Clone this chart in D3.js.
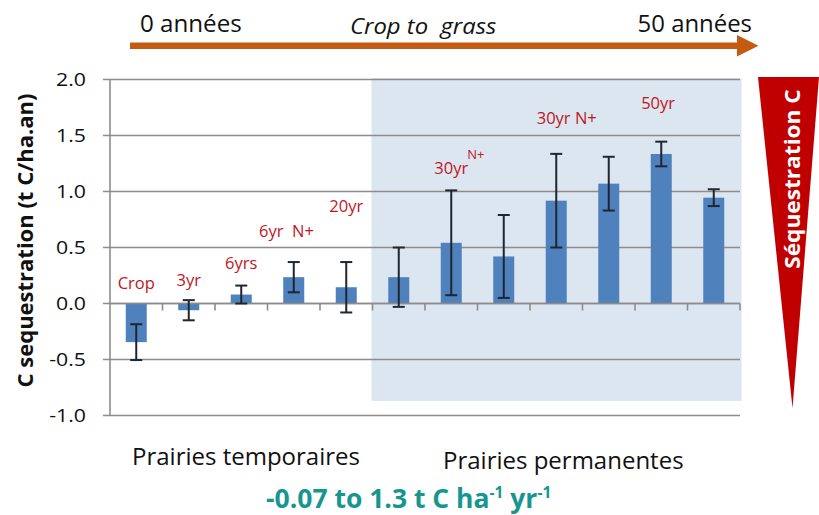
<!DOCTYPE html>
<html>
<head>
<meta charset="utf-8">
<script src="https://cdn.jsdelivr.net/npm/d3@7"></script>
<style>
  html, body { margin: 0; padding: 0; background: #ffffff; }
  svg { display: block; }
  text { font-family: "Open Sans", "Noto Sans", sans-serif; }
</style>
</head>
<body>
<svg id="chart" width="819" height="515"></svg>
<script>
// ---- data ----
const categories = ["c1","c2","c3","c4","c5","c6","c7","c8","c9","c10","c11","c12"];
const values = [-0.345, -0.06, 0.08, 0.235, 0.145, 0.235, 0.542, 0.42, 0.918, 1.07, 1.335, 0.945];
const errors = [0.16, 0.09, 0.08, 0.135, 0.225, 0.265, 0.468, 0.37, 0.418, 0.24, 0.11, 0.075];
const yTicks = [-1.0, -0.5, 0.0, 0.5, 1.0, 1.5, 2.0];
const barLabels = ["Crop", "3yr", "6yrs", "6yr  N+", "20yr", "30yr", "30yr N+", "50yr"];
const labelAt = [0, 1, 2, 2.86, 4, 6, 8.2, 9.94];        // category index (centre)
const labelLevel = [0.18, 0.21, 0.36, 0.65, 0.87, 1.21, 1.66, 1.79]; // value level
const groupLabels = ["Prairies temporaires", "Prairies permanentes"];

const svg = d3.select("#chart");
const L = 110, R = 740;

const x = d3.scaleBand().domain(categories).range([L, R]).paddingInner(0.6).paddingOuter(0.3);
const xi = d3.scaleLinear().domain([0, categories.length]).range([L, R]);
const y = d3.scaleLinear().domain([-1, 2]).range([415.5, 79.5]);

// text stretched horizontally by factor k (the reference art is slightly widened)
function stext(parent, tx, ty, k, rot) {
  const g = parent.append("g").attr("transform", `translate(${tx},${ty})` + (rot ? ` rotate(${rot})` : "") + ` scale(${k},1)`);
  return g.append("text").attr("x", 0).attr("y", 0);
}

// ---- top arrow ----
const arrowC = "#C55A11";
svg.append("rect").attr("x", 130).attr("y", 42.5).attr("width", 608).attr("height", 6.5).attr("fill", arrowC);
svg.append("path").attr("d", "M737,35 L758.5,45.8 L737,56.5 Z").attr("fill", arrowC);
stext(svg, 140, 31.5, 1.05).attr("font-size", 23).attr("fill", "#111").text("0 années");
stext(svg, 350, 34, 1.06).attr("font-size", 22.5).attr("font-style", "italic").attr("fill", "#111")
  .style("white-space", "pre").text("Crop to  grass");
stext(svg, 752, 31.5, 1.04).attr("font-size", 23).attr("text-anchor", "end").attr("fill", "#111").text("50 années");

// ---- shaded region (permanent grassland) ----
svg.append("rect").attr("x", xi(5) - 1).attr("y", y(2) - 1.5)
  .attr("width", R + 1.5 - (xi(5) - 1)).attr("height", y(-0.87) - (y(2) - 1.5))
  .attr("fill", "#DCE6F1");

// ---- grid lines & axes ----
const gridC = "#8C8C8C";
svg.append("g").selectAll("line").data(yTicks).join("line")
  .attr("x1", L - 7).attr("x2", R).attr("y1", d => y(d)).attr("y2", d => y(d))
  .attr("stroke", gridC).attr("stroke-width", 1.6);
svg.append("line").attr("x1", L).attr("x2", L).attr("y1", y(-1)).attr("y2", y(2))
  .attr("stroke", gridC).attr("stroke-width", 1.6);
yTicks.forEach(t => {
  stext(svg, 86, y(t), 1.12).attr("dy", "0.36em").attr("text-anchor", "end")
    .attr("font-size", 19).attr("fill", "#111").text(d3.format(".1f")(t).replace("−", "-"));
});
// category ticks at zero
svg.append("g").selectAll("line").data(d3.range(1, categories.length + 1)).join("line")
  .attr("x1", d => xi(d)).attr("x2", d => xi(d)).attr("y1", y(0)).attr("y2", y(0) + 7)
  .attr("stroke", gridC).attr("stroke-width", 1.6);

// ---- y title ----
stext(svg, 33, 240.5, 1.0, -90).attr("text-anchor", "middle").attr("font-size", 22)
  .attr("font-weight", "bold").attr("fill", "#111").text("C sequestration (t C/ha.an)");

// ---- bars ----
const data = categories.map((c, i) => ({ c, v: values[i], e: errors[i] }));
svg.append("g").selectAll("rect").data(data).join("rect")
  .attr("x", d => x(d.c)).attr("width", x.bandwidth())
  .attr("y", d => y(Math.max(0, d.v))).attr("height", d => Math.abs(y(d.v) - y(0)))
  .attr("fill", "#4F81BD");
// redraw zero line over bars
svg.append("line").attr("x1", L).attr("x2", R).attr("y1", y(0)).attr("y2", y(0))
  .attr("stroke", gridC).attr("stroke-width", 1.6);

// ---- error bars ----
const eb = svg.append("g").attr("stroke", "#1E2631").attr("stroke-width", 2).attr("fill", "none");
data.forEach(d => {
  const cx = x(d.c) + x.bandwidth() / 2;
  const t = y(d.v + d.e), b = y(d.v - d.e);
  eb.append("line").attr("x1", cx).attr("x2", cx).attr("y1", t).attr("y2", b);
  eb.append("line").attr("x1", cx - 6).attr("x2", cx + 6).attr("y1", t).attr("y2", t);
  eb.append("line").attr("x1", cx - 6).attr("x2", cx + 6).attr("y1", b).attr("y2", b);
});

// ---- red labels ----
const red = "#C0161E";
svg.append("g").selectAll("text").data(barLabels).join("text")
  .attr("x", (d, i) => xi(labelAt[i] + 0.5)).attr("y", (d, i) => y(labelLevel[i]))
  .attr("dy", "0.36em").attr("text-anchor", "middle").attr("font-size", 16.5).attr("fill", red)
  .style("white-space", "pre").text(d => d);
svg.append("text").attr("x", xi(6.5) + 16).attr("y", y(1.29)).attr("font-size", 13).attr("fill", red).text("N+");

// ---- right triangle ----
svg.append("path").attr("d", "M758,77 L819,77 L792.5,408 Z").attr("fill", "#C00000");
stext(svg, 800, 179, 1.08, -90).attr("text-anchor", "middle")
  .attr("font-size", 21).attr("font-weight", "bold").attr("fill", "#ffffff").text("Séquestration C");

// ---- group labels ----
stext(svg, 132, 464.5, 1.0).attr("font-size", 24).attr("fill", "#111").text(groupLabels[0]);
stext(svg, 443, 468.5, 1.0).attr("font-size", 24).attr("fill", "#111").text(groupLabels[1]);

// ---- teal summary ----
const teal = svg.append("text").attr("x", 266).attr("y", 508).attr("font-size", 26.5)
  .attr("font-weight", "bold").attr("fill", "#17958F");
teal.append("tspan").text("-0.07 to 1.3 t C ha");
teal.append("tspan").attr("dy", -10).attr("font-size", 15.5).text("-1");
teal.append("tspan").attr("dy", 10).text(" yr");
teal.append("tspan").attr("dy", -10).attr("font-size", 15.5).text("-1");
</script>
</body>
</html>
